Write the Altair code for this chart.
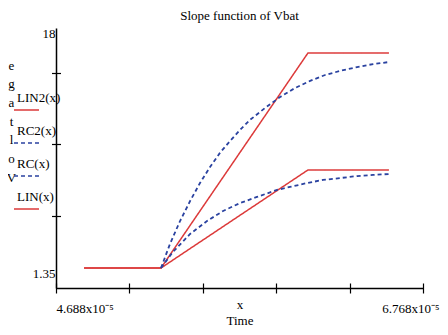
import altair as alt
import pandas as pd

title_text = "Slope function of Vbat"
series_names = ["LIN2(x)", "RC2(x)", "RC(x)", "LIN(x)"]
series_colors = ["#dc3a3a", "#2a42a0", "#2a42a0", "#dc3a3a"]
series_dash = [[1, 0], [4, 3], [4, 3], [1, 0]]

# Time (s) and voltage (V)
lin2_t = [4.847e-5, 5.283e-5, 6.116e-5, 6.575e-5]
lin2_v = [2.63, 2.63, 16.40, 16.40]
lin_t = [4.847e-5, 5.283e-5, 6.116e-5, 6.575e-5]
lin_v = [2.63, 2.63, 8.91, 8.91]
rc2_t = [5.283e-5, 5.334e-5, 5.391e-5, 5.448e-5, 5.504e-5, 5.561e-5, 5.617e-5,
         5.674e-5, 5.731e-5, 5.787e-5, 5.873e-5, 5.958e-5, 6.043e-5, 6.128e-5,
         6.213e-5, 6.298e-5, 6.394e-5, 6.485e-5, 6.575e-5]
rc2_v = [2.63, 4.17, 5.64, 6.92, 8.07, 9.10, 10.00, 10.76, 11.47, 12.11, 12.88,
         13.58, 14.16, 14.61, 14.99, 15.25, 15.50, 15.69, 15.82]
rc_t = [5.283e-5, 5.351e-5, 5.448e-5, 5.544e-5, 5.635e-5, 5.731e-5, 5.827e-5,
        5.941e-5, 6.014e-5, 6.111e-5, 6.201e-5, 6.298e-5, 6.394e-5, 6.485e-5,
        6.575e-5]
rc_v = [2.63, 3.66, 4.81, 5.64, 6.28, 6.79, 7.18, 7.63, 7.82, 8.07, 8.27, 8.39,
        8.52, 8.59, 8.65]

x_min, x_max = 4.688e-5, 6.768e-5
x_ticks = [4.688e-5, 5.104e-5, 5.520e-5, 5.936e-5, 6.352e-5, 6.768e-5]
x_label_values = [4.688e-5, 6.768e-5]
x_label_text = ["4.688x10⁻⁵", "6.768x10⁻⁵"]
y_min, y_max = 1.35, 18
y_ticks = [5.95, 10.55, 15.15]
y_label_values = [1.35, 18]
y_label_text = ["1.35", "18"]
x_title = ["x", "Time"]
y_title = ["e", "g", "a", "t", "l", "o", "V"]

rows = []
for name, ts, vs in [("LIN2(x)", lin2_t, lin2_v), ("LIN(x)", lin_t, lin_v),
                     ("RC2(x)", rc2_t, rc2_v), ("RC(x)", rc_t, rc_v)]:
    for i, (t, v) in enumerate(zip(ts, vs)):
        rows.append({"series": name, "t": t, "v": v, "i": i})
df = pd.DataFrame(rows)

FONT = "Liberation Serif"


def lab_expr(values, texts, tol):
    e = "''"
    for val, txt in zip(values, texts):
        e = f"abs(datum.value - {val}) < {tol} ? '{txt}' : ({e})"
    return e


color = alt.Color("series:N", title=None,
                  scale=alt.Scale(domain=series_names, range=series_colors))
dash = alt.StrokeDash("series:N", title=None,
                      scale=alt.Scale(domain=series_names, range=series_dash))
xscale = alt.Scale(domain=[x_min, x_max], nice=False, zero=False)
yscale = alt.Scale(domain=[y_min, y_max], nice=False, zero=False)
x_mid = (x_min + x_max) / 2

axis_x_main = alt.Axis(
    orient="bottom", values=x_label_values, ticks=False, grid=False,
    domainColor="black", domainWidth=1.5,
    labelExpr=lab_expr(x_label_values, x_label_text, 1e-9),
    labelAlign={"condition": {"test": f"datum.value < {x_mid}", "value": "left"}, "value": "right"},
    labelOffset={"condition": {"test": f"datum.value < {x_mid}", "value": 0}, "value": 16},
    labelBaseline="top", labelPadding=14, labelFont=FONT, labelFontSize=13,
    labelColor="black", labelFlush=False, labelOverlap=False,
    title=x_title, titleFont=FONT, titleFontSize=13, titleFontWeight="normal",
    titleColor="black", titleBaseline="top", titleY=10, titleLineHeight=16,
)
axis_x_ticks = alt.Axis(
    orient="bottom", values=x_ticks, ticks=True, tickSize=10, offset=-5,
    tickColor="black", tickWidth=1.2, domain=False, labels=False, grid=False,
    title=None,
)
axis_y_main = alt.Axis(
    orient="left", values=y_label_values, ticks=False, grid=False,
    domainColor="black", domainWidth=1.5,
    labelExpr=lab_expr(y_label_values, y_label_text, 1e-6),
    labelOffset={"condition": {"test": "datum.value > 10", "value": 5}, "value": -15},
    labelBaseline="middle", labelPadding=1, labelFont=FONT, labelFontSize=13,
    labelColor="black", labelFlush=False, labelOverlap=False,
    title=y_title, titleFont=FONT, titleFontSize=13, titleFontWeight="normal",
    titleColor="black", titleAngle=0, titleAlign="center", titleBaseline="middle",
    titleX=-45, titleY=37, titleLineHeight=18.7,
)
axis_y_ticks = alt.Axis(
    orient="left", values=y_ticks, ticks=True, tickSize=9, offset=-4.5,
    tickColor="black", tickWidth=1.2, domain=False, labels=False, grid=False,
    title=None,
)

red = alt.Chart(df).transform_filter(
    alt.FieldOneOfPredicate(field="series", oneOf=["LIN2(x)", "LIN(x)"])
).mark_line(strokeWidth=1.5).encode(
    x=alt.X("t:Q", scale=xscale, axis=axis_x_main),
    y=alt.Y("v:Q", scale=yscale, axis=axis_y_main),
    color=color, strokeDash=dash, order="i:Q",
)
blue = alt.Chart(df).transform_filter(
    alt.FieldOneOfPredicate(field="series", oneOf=["RC2(x)", "RC(x)"])
).mark_line(strokeWidth=1.8).encode(
    x=alt.X("t:Q", scale=xscale, axis=axis_x_ticks),
    y=alt.Y("v:Q", scale=yscale, axis=axis_y_ticks),
    color=color, strokeDash=dash, order="i:Q",
)

chart = alt.layer(red, blue).resolve_axis(x="independent", y="independent").properties(
    width=367, height=260,
    title=alt.TitleParams(title_text, font=FONT, fontSize=13, fontWeight="normal",
                          color="black", anchor="middle", offset=4),
    autosize=alt.AutoSizeParams(type="none"),
    padding={"left": 48, "top": 20, "right": 17, "bottom": 39},
).configure_view(stroke=None).configure_legend(
    orient="none", legendX=-66, legendY=56,
    symbolType="M0.84,-1M0.84,1L2.84,1", symbolSize=625, symbolStrokeWidth=1.5,
    labelOffset=0, labelFont=FONT, labelFontSize=13, labelColor="black",
    rowPadding=2, padding=0,
)

chart.save("out.html", embed_options={"renderer": "svg", "actions": False})
